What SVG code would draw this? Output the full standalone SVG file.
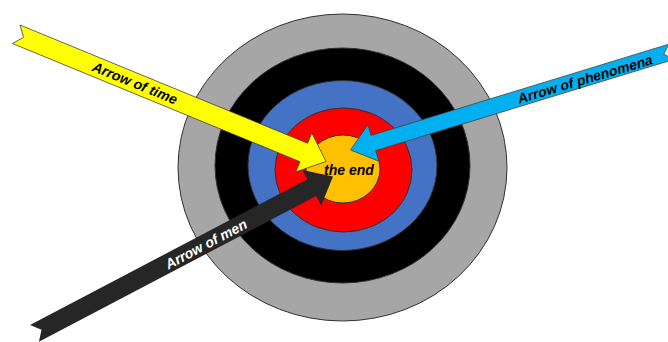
<svg xmlns="http://www.w3.org/2000/svg" width="668" height="342" viewBox="0 0 668 342">
<style>
.ring{stroke:#303030;stroke-width:1}
.arr{stroke:#404040;stroke-width:0.8;stroke-linejoin:miter}
.lbl{font-family:"Liberation Sans",Arial,sans-serif;font-weight:bold;font-style:italic;font-size:14px;text-anchor:middle}
</style>
<rect width="668" height="342" fill="#ffffff"/>
<g id="target">
<ellipse class="ring" cx="342.5" cy="167.5" rx="164.5" ry="153.5" fill="#A6A6A6"/>
<ellipse class="ring" cx="342.5" cy="165.5" rx="127.5" ry="117.5" fill="#000000"/>
<ellipse class="ring" cx="342.5" cy="165.5" rx="94.5" ry="85" fill="#4472C4"/>
<ellipse class="ring" cx="343.5" cy="170" rx="68.5" ry="62" fill="#FF0000"/>
<ellipse class="ring" cx="343" cy="169" rx="37" ry="34" fill="#FFC000"/>
</g>
<g id="connectors">
<g id="arrow-men">
<polygon fill="#262626" points="30,325 307.4,179.3 302.4,170 333,176.5 321.2,205.4 316.2,196.1 38.9,341.8 41.5,329.7"/>
<text class="lbl" fill="#ffffff" transform="translate(206,244) rotate(-28)" y="5">Arrow of men</text>
</g>
<g id="arrow-time">
<polygon class="arr" fill="#FFFF00" points="20,25 307.6,143.2 311.8,133 326,161.5 295.8,171.8 300,161.7 12.4,43.5 23.6,37.3"/>
<text class="lbl" fill="#000000" transform="translate(135,83) rotate(22.3)" y="5">Arrow of time</text>
</g>
<g id="arrow-phenomena">
<polygon class="arr" fill="#00B0F0" points="669,44.1 371.1,135.4 367.8,124.8 350.5,150 379,161.2 375.7,150.6 673.8,59.4 663.8,54.1"/>
<text class="lbl" fill="#000000" transform="translate(585,79) rotate(-16.5)" y="5">Arrow of phenomena</text>
</g>
</g>
<g id="center-label">
<text class="lbl" fill="#000000" x="349" y="175">the end</text>
</g>
</svg>
